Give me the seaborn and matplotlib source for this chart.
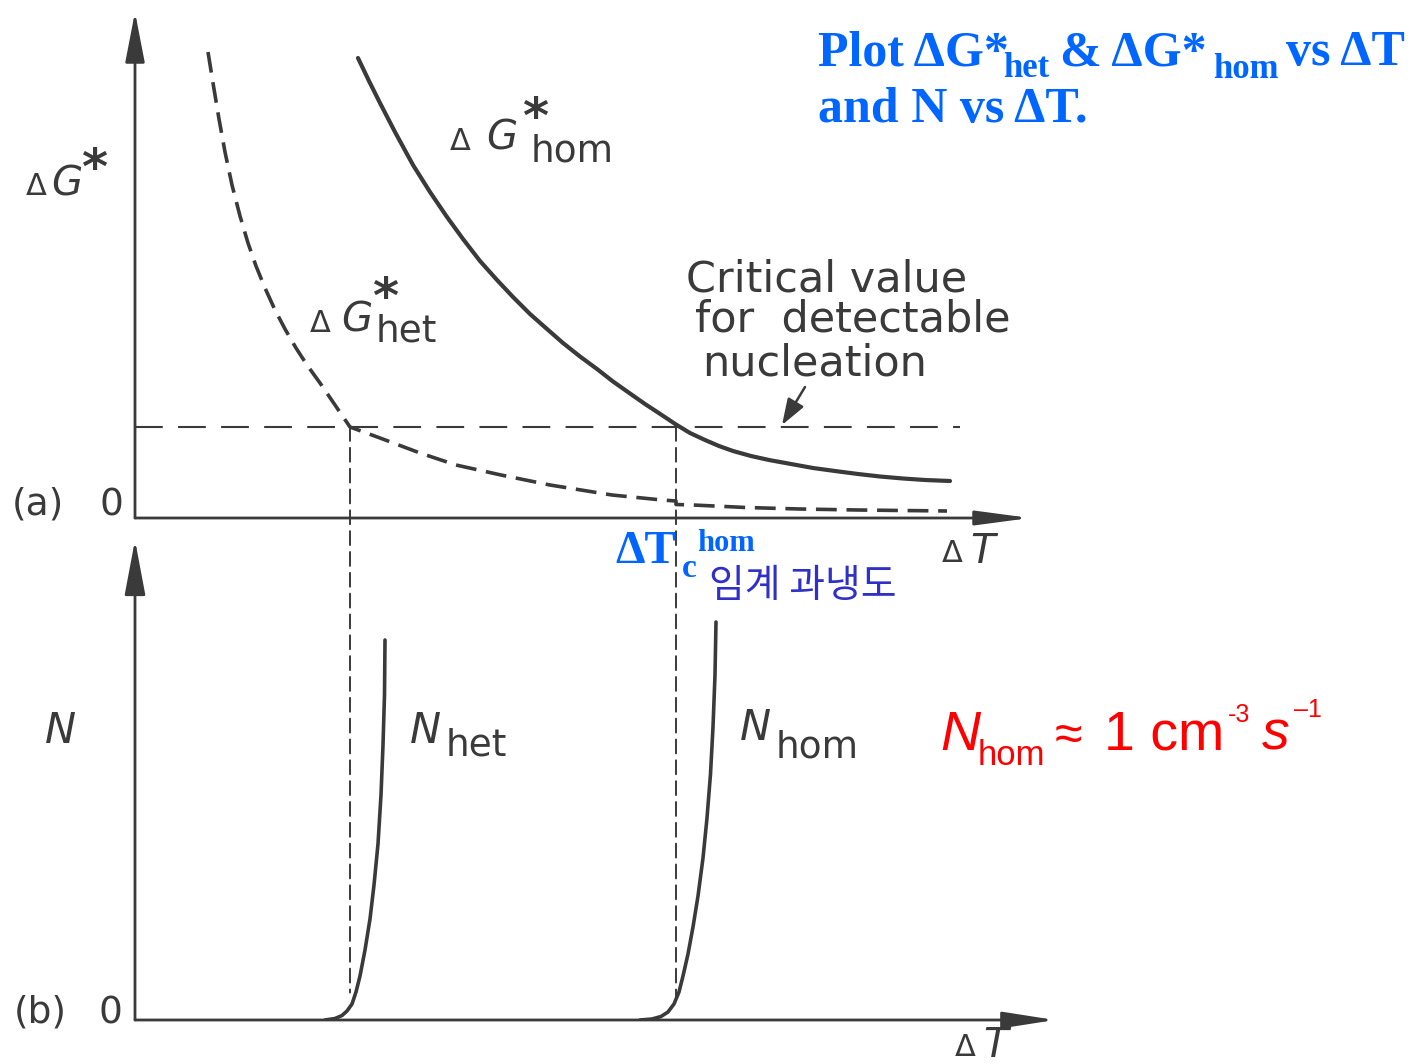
import matplotlib
matplotlib.use("Agg")
import matplotlib.pyplot as plt
import seaborn as sns
from matplotlib.patches import ConnectionPatch

# ---- (a) activation barrier vs undercooling (arbitrary units) ----
hom_dT = [2.23, 2.34, 2.45, 2.60, 2.78, 2.95, 3.12, 3.28, 3.45, 3.62, 3.78, 3.95,
          4.12, 4.28, 4.45, 4.62, 4.78, 4.95, 5.10, 5.26, 5.41, 5.55, 5.70, 5.84,
          5.98, 6.16, 6.34, 6.56, 6.78, 7.00, 7.23, 7.45, 7.68, 7.90, 8.15]
hom_dG = [9.20, 8.74, 8.30, 7.72, 7.06, 6.52, 6.02, 5.58, 5.14, 4.76, 4.42, 4.08,
          3.78, 3.50, 3.23, 2.98, 2.73, 2.49, 2.28, 2.07, 1.87, 1.70, 1.56, 1.44,
          1.34, 1.24, 1.16, 1.08, 1.00, 0.94, 0.88, 0.83, 0.79, 0.76, 0.74]

het_dT = [0.73, 0.78, 0.84, 0.90, 0.97, 1.05, 1.13, 1.21, 1.30, 1.40, 1.50, 1.61,
          1.72, 1.85, 2.00, 2.15, 2.45, 2.85, 3.21, 3.66, 4.15, 4.77, 5.27, 5.41,
          5.41, 5.58, 6.11, 6.65, 7.23, 8.12]
het_dG = [9.32, 8.70, 7.98, 7.32, 6.66, 6.04, 5.50, 5.04, 4.60, 4.16, 3.78, 3.40,
          3.06, 2.70, 2.26, 1.82, 1.60, 1.30, 1.06, 0.86, 0.66, 0.46, 0.36, 0.34,
          0.27, 0.26, 0.21, 0.18, 0.16, 0.14]

crit_dG = 1.82          # critical value for detectable nucleation
crit_dT = [0.0, 8.25]   # extent of the critical-value line
dTc_het = 2.15
dTc_hom = 5.41

# ---- (b) nucleation rate vs undercooling (arbitrary units) ----
nhet_dT = [1.90, 2.00, 2.07, 2.12, 2.17, 2.21, 2.25, 2.30, 2.35, 2.39, 2.43,
           2.46, 2.48, 2.495, 2.50]
nhet_N = [0.00, 0.03, 0.09, 0.18, 0.32, 0.56, 0.88, 1.40, 2.02, 2.70, 3.52,
          4.50, 5.50, 6.50, 7.60]
nhom_dT = [5.05, 5.17, 5.26, 5.33, 5.39, 5.44, 5.48, 5.53, 5.58, 5.63, 5.68,
           5.72, 5.755, 5.78, 5.80, 5.81]
nhom_N = [0.00, 0.02, 0.07, 0.16, 0.32, 0.56, 0.88, 1.32, 1.86, 2.48, 3.24,
          4.04, 4.92, 5.86, 6.90, 7.96]

INK = "#3a3a3a"
BLUE = "#0066ff"
KBLUE = "#3030c8"
RED = "#ff0000"

sns.set_theme(style="white")
plt.rcParams["font.family"] = ["DejaVu Sans"]
plt.rcParams["lines.scale_dashes"] = False

W, H = 1414, 1064
fig = plt.figure(figsize=(W / 100, H / 100), dpi=100)
fig.patch.set_facecolor("white")

ax_a = fig.add_axes([135 / W, (H - 518) / H, 920 / W, 508 / H])
ax_b = fig.add_axes([135 / W, (H - 1020) / H, 920 / W, 480 / H])
ax_a.set_xlim(0, 9.2)
ax_a.set_ylim(0, 10.16)
ax_b.set_xlim(0, 9.2)
ax_b.set_ylim(0, 9.6)
for ax in (ax_a, ax_b):
    ax.set_axis_off()


def axis_arrow(ax, end, hl, hw):
    ax.annotate("", xy=end, xytext=(0, 0), xycoords="data", textcoords="data",
                annotation_clip=False,
                arrowprops=dict(arrowstyle=f"-|>,head_length={hl},head_width={hw}",
                                lw=2.0, color=INK, fc=INK, shrinkA=0, shrinkB=0,
                                mutation_scale=20))


axis_arrow(ax_a, (0, 10.12), 1.55, 0.30)
axis_arrow(ax_a, (8.95, 0), 1.65, 0.22)
axis_arrow(ax_b, (0, 9.6), 1.70, 0.32)
axis_arrow(ax_b, (9.2, 0), 1.60, 0.25)

# curves of panel (a)
sns.lineplot(x=hom_dT, y=hom_dG, ax=ax_a, color=INK, lw=3.0,
             sort=False, estimator=None)
sns.lineplot(x=het_dT, y=het_dG, ax=ax_a, color=INK, lw=2.6,
             linestyle=(0, (15, 7)), sort=False, estimator=None)
sns.lineplot(x=crit_dT, y=[crit_dG, crit_dG], ax=ax_a, color=INK, lw=1.5,
             linestyle=(0, (20, 11)), sort=False, estimator=None)

# curves of panel (b)
sns.lineplot(x=nhet_dT, y=nhet_N, ax=ax_b, color=INK, lw=2.6,
             sort=False, estimator=None)
sns.lineplot(x=nhom_dT, y=nhom_N, ax=ax_b, color=INK, lw=2.6,
             sort=False, estimator=None)

# critical undercoolings carried down into panel (b)
for dtc, yend in ((dTc_het, 0.55), (dTc_hom, 0.40)):
    con = ConnectionPatch(xyA=(dtc, crit_dG), coordsA=ax_a.transData,
                          xyB=(dtc, yend), coordsB=ax_b.transData,
                          color=INK, lw=1.4, linestyle=(0, (10, 5)))
    fig.add_artist(con)

# pointer to the critical-value line
ax_a.annotate("", xy=(6.47, 1.86), xytext=(6.70, 2.62),
              arrowprops=dict(arrowstyle="-|>,head_length=0.8,head_width=0.28",
                              lw=1.8, color=INK, fc=INK, shrinkA=0, shrinkB=0,
                              mutation_scale=20))


def put(px, py, s, size, **kw):
    kw.setdefault("color", INK)
    fig.text(px / W, 1 - py / H, s, fontsize=size, va="baseline", ha="left", **kw)


# ΔG* axis label
put(26, 195, "Δ", 22)
put(51, 196, "G", 29, style="italic")
put(81, 184, "*", 36, weight="bold")
# ΔG*hom
put(450, 150, "Δ", 22)
put(486, 150, "G", 29, style="italic")
put(522, 133, "*", 36, weight="bold")
put(531, 161, "hom", 27)
# ΔG*het
put(310, 332, "Δ", 22)
put(341, 332, "G", 29, style="italic")
put(372, 313, "*", 36, weight="bold")
put(376, 342, "het", 27)

put(686, 292, "Critical value", 31)
put(695, 332, "for  detectable", 31)
put(702, 375, "nucleation", 31)

put(12, 515, "(a)", 27)
put(100, 515, "0", 27)
put(14, 1023, "(b)", 27)
put(98, 1023, "0", 27)

put(942, 562, "Δ", 22)
put(970, 563, "T", 29, style="italic")
put(955, 1056, "Δ", 22)
put(983, 1057, "T", 29, style="italic")

put(45, 743, "N", 30, style="italic")
put(410, 743, "N", 30, style="italic")
put(446, 755, "het", 27)
put(740, 740, "N", 30, style="italic")
put(776, 757, "hom", 27)

# blue heading
serif = dict(family="Liberation Serif", weight="bold", color=BLUE)
put(818, 65, "Plot ΔG*", 36, **serif)
put(1003, 77, "het", 25, **serif)
put(1060, 65, "& ΔG*", 36, **serif)
put(1213, 78, "hom", 25, **serif)
put(1286, 65, "vs ΔT", 36, **serif)
put(818, 122, "and N vs ΔT.", 36, **serif)

# critical undercooling marker
put(615, 563, "ΔT", 34, **serif)
put(682, 577, "c", 24, **serif)
put(697, 551, "hom", 22, **serif)
put(709, 597, "임계 과냉도", 28, family="Noto Sans CJK KR", color=KBLUE)

# homogeneous nucleation rate
sans = dict(family="Liberation Sans", color=RED)
put(940, 750, "N", 40, style="italic", **sans)
put(978, 765, "hom", 25, **sans)
put(1055, 750, "≈", 36, **sans)
put(1104, 750, "1 cm", 40, **sans)
put(1228, 722, "-3", 18, **sans)
put(1262, 750, "s", 40, style="italic", **sans)
put(1294, 717, "\u20131", 18, **sans)

fig.savefig("out.png", dpi=100, facecolor="white")
